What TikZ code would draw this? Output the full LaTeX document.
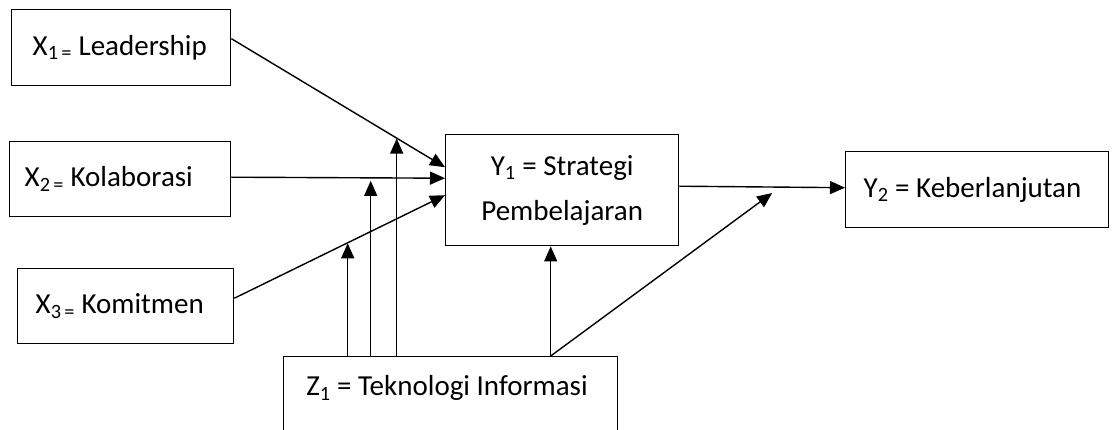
\documentclass[tikz,border=0pt]{standalone}
\usepackage{fontspec}
\setmainfont{Carlito}
\usetikzlibrary{arrows.meta}
\newcommand{\nsp}{\spaceskip=0pt\xspaceskip=0pt\relax}
\begin{document}
\begin{tikzpicture}[x=1pt,y=-1pt,
  box/.style={draw, line width=1.4pt, rectangle, inner ysep=0pt, anchor=north west,
    font=\fontsize{29}{45}\selectfont},
  arr/.style={line width=1.4pt, -{Triangle[length=15pt,width=13pt]}}]
\useasboundingbox (0,0) rectangle (1112,430);
\clip (0,0) rectangle (1112,430);
\fill[white] (0,0) rectangle (1112,430);

\node[box, inner xsep=21pt, text width=177pt, align=left, minimum height=76pt] (X1) at (11,9)
  {\nsp\mbox{X\textsubscript{1\,=} Leadership}};
\node[box, inner xsep=15pt, text width=191pt, align=left, minimum height=75pt] (X2) at (9,141)
  {\nsp\mbox{X\textsubscript{2\,=} Kolaborasi}};
\node[box, inner xsep=18pt, text width=180pt, align=left, minimum height=75pt] (X3) at (17,268)
  {\nsp\mbox{X\textsubscript{3\,=} Komitmen}};
\node[box, inner xsep=10pt, text width=213pt, align=center, minimum height=111pt] (Y1) at (445,134)
  {\nsp\mbox{Y\textsubscript{1} = Strategi}\\\mbox{Pembelajaran}};
\node[box, inner xsep=18pt, text width=227pt, align=left, minimum height=76pt] (Y2) at (845,151)
  {\nsp\mbox{Y\textsubscript{2} = Keberlanjutan}};
\node[box, minimum width=334pt, minimum height=100pt] (Z1) at (283,356) {};
\node[font=\fontsize{29}{45}\selectfont, inner sep=0pt] (Zt) at (447,388)
  {Z\textsubscript{1} = Teknologi Informasi};

% main paths
\draw[arr] ([yshift=9pt]X1.east) -- coordinate[pos=0.777] (m1) ([yshift=23pt]Y1.west);
\draw[arr] ([yshift=2pt]X2.east) -- coordinate[pos=0.648] (m2) ([yshift=12pt]Y1.west);
\draw[arr] ([yshift=8pt]X3.east) -- coordinate[pos=0.533] (m3) ([yshift=-5pt]Y1.west);
\draw[arr] ([yshift=4pt]Y1.east) -- coordinate[pos=0.56] (m4) ([yshift=2pt]Y2.west);

% moderation by Z1
\coordinate (z3) at ([xshift=-103pt]Z1.north);
\coordinate (z2) at ([xshift=-80pt]Z1.north);
\coordinate (z1) at ([xshift=-54pt]Z1.north);
\coordinate (zc) at ([xshift=100pt]Z1.north);
\draw[arr] (z3) -- (z3 |- m3);
\draw[arr] (z2) -- ([yshift=-3pt]z2 |- m2);
\draw[arr] (z1) -- (z1 |- m1);
\draw[arr] (zc) -- (zc |- Y1.south);
\draw[arr] (zc) -- ([yshift=-6pt]m4);
\end{tikzpicture}
\end{document}
